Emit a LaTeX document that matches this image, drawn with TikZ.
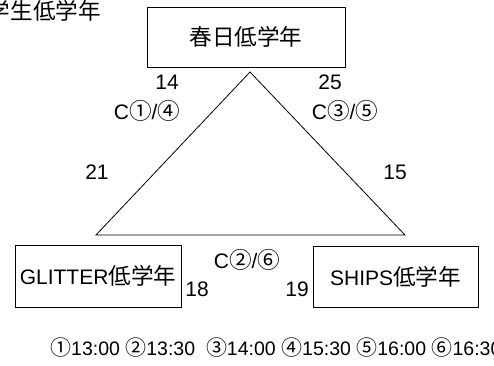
\documentclass[tikz,border=0pt]{standalone}
\usepackage{fontspec}
\setmainfont{Liberation Sans}
\newfontfamily\cjk[Scale=1.076]{Noto Sans CJK JP}
\begin{document}
\begin{tikzpicture}[x=1pt,y=-1pt,
  every node/.style={font=\fontsize{21}{23}\selectfont, inner sep=0pt},
  boxnode/.style={draw, line width=0.9pt, rectangle}]
\useasboundingbox (0,0) rectangle (494,365);
% title cut at left
\node[anchor=east] (title) at (101,11) {\cjk 学生低学年};
% boxes
\node[boxnode, minimum width=198pt, minimum height=60pt] (top) at (246,37) {\cjk 春日低学年};
\node[boxnode, minimum width=166pt, minimum height=62pt] (left) at (98,276) {GLITTER{\cjk 低学年}};
\node[boxnode, minimum width=165pt, minimum height=61pt] (right) at (395.5,276.5) {SHIPS{\cjk 低学年}};
% triangle
\coordinate (apex) at (250,72);
\coordinate (bl) at (96,235);
\coordinate (br) at (405,235);
\draw[line width=0.8pt] (apex) -- (bl) -- (br) -- cycle;
% labels
\node (n14) at (167,82) {14};
\node (n25) at (330,82) {25};
\node (c14) at (147,111) {C{\cjk ①}/{\cjk ④}};
\node (c35) at (345,111) {C{\cjk ③}/{\cjk ⑤}};
\node (n21) at (97,172) {21};
\node (n15) at (395,172) {15};
\node (c26) at (247,260) {C{\cjk ②}/{\cjk ⑥}};
\node (n18) at (197,289) {18};
\node (n19) at (297,289) {19};
\node[anchor=west, font=\fontsize{19.5}{21}\selectfont] (times) at (50,348) {{\cjk ①}13:00 {\cjk ②}13:30\ \ {\cjk ③}14:00 {\cjk ④}15:30 {\cjk ⑤}16:00 {\cjk ⑥}16:30};
\end{tikzpicture}
\end{document}
